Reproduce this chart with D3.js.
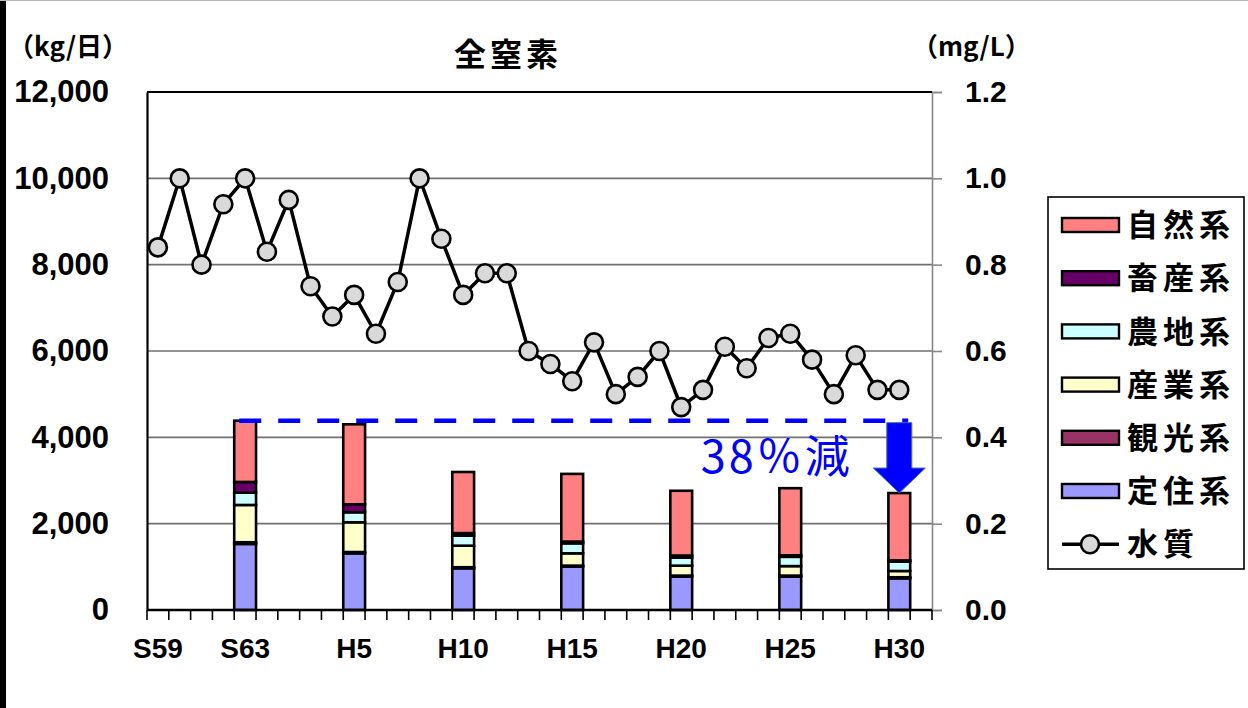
<!DOCTYPE html>
<html>
<head>
<meta charset="utf-8">
<script src="https://cdn.jsdelivr.net/npm/d3@7"></script>
<style>
  body { margin: 0; background: #fff; }
  svg { display: block; }
  .num { font-family: "Liberation Sans", Arial, sans-serif; font-weight: bold; }
  .jp { font-family: "Noto Sans CJK JP", sans-serif; }
</style>
</head>
<body>
<div id="chart"></div>
<script>
var fullWidth = 1248,
    fullHeight = 708;

// categories along x (one band per year, last band left empty)
var categories = ["S59","S60","S61","S62","S63",
  "H1","H2","H3","H4","H5","H6","H7","H8","H9","H10",
  "H11","H12","H13","H14","H15","H16","H17","H18","H19","H20",
  "H21","H22","H23","H24","H25","H26","H27","H28","H29","H30","R1"];
var tickLabels = ["S59","S63","H5","H10","H15","H20","H25","H30"];

// water quality (mg/L), S59..H30
var quality = [0.84, 1.00, 0.80, 0.94, 1.00, 0.83, 0.95, 0.75, 0.68, 0.73,
  0.64, 0.76, 1.00, 0.86, 0.73, 0.78, 0.78, 0.60, 0.57, 0.53,
  0.62, 0.50, 0.54, 0.60, 0.47, 0.51, 0.61, 0.56, 0.63, 0.64,
  0.58, 0.50, 0.59, 0.51, 0.51];

// loads (kg/day)
var barYears = ["S63","H5","H10","H15","H20","H25","H30"];
var teiju    = [1530, 1313,  966, 1003,  772,  772,  734];
var kanko    = [  40,   30,   25,   25,   25,   25,   25];
var sangyo   = [ 863,  689,  499,  285,  230,  220,  145];
var nochi    = [ 285,  232,  232,  232,  185,  215,  215];
var chikusan = [ 248,  185,   60,   40,   50,   35,   30];
var shizen   = [1420, 1853, 1415, 1568, 1500, 1555, 1560];

var seriesNames  = ["定住系","観光系","産業系","農地系","畜産系","自然系"];
var seriesColors = ["#9999FF","#993366","#FFFFCC","#CCFFFF","#660066","#FF8080"];
var legendNames  = ["自然系","畜産系","農地系","産業系","観光系","定住系"];

var leftTicks  = [0, 2000, 4000, 6000, 8000, 10000, 12000];
var rightTicks = [0, 0.2, 0.4, 0.6, 0.8, 1.0, 1.2];

var title = "全窒素",
    leftUnit = "（kg/日）",
    rightUnit = "（mg/L）",
    lineName = "水質",
    reductionLabel = "38％減";

var plot = {left: 147, right: 932, top: 92, bottom: 610};

var svg = d3.select("#chart").append("svg")
    .attr("width", fullWidth)
    .attr("height", fullHeight);

// frame of the slide
svg.append("rect").attr("x", 0).attr("y", 0).attr("width", 6).attr("height", fullHeight).attr("fill", "#000");
svg.append("line").attr("x1", 0).attr("x2", fullWidth).attr("y1", 0.5).attr("y2", 0.5)
    .attr("stroke", "#bbb").attr("stroke-width", 1);

var xScale = d3.scaleBand()
    .domain(categories)
    .range([plot.left, plot.right])
    .padding(0);

var yScale = d3.scaleLinear().domain([0, 12000]).range([plot.bottom, plot.top]);
var y2Scale = d3.scaleLinear().domain([0, 1.2]).range([plot.bottom, plot.top]);

// gridlines
svg.append("g")
  .selectAll("line")
  .data(leftTicks.filter(function(d) { return d > 0 && d < 12000; }))
  .enter().append("line")
    .attr("x1", plot.left).attr("x2", plot.right)
    .attr("y1", function(d) { return yScale(d); })
    .attr("y2", function(d) { return yScale(d); })
    .attr("stroke", "#707070")
    .attr("stroke-width", 1.6);

// right axis (gray)
var rightAxis = svg.append("g")
    .attr("class", "num")
    .attr("transform", "translate(" + plot.right + ",0)")
    .call(d3.axisRight(y2Scale).tickValues(rightTicks).tickSize(10).tickPadding(23)
          .tickFormat(d3.format(".1f")));
rightAxis.select(".domain").attr("stroke", "#888").attr("stroke-width", 1.6);
rightAxis.selectAll(".tick line").attr("stroke", "#888").attr("stroke-width", 1.6);
rightAxis.selectAll("text").attr("fill", "#000").style("font-size", "30px");

// left axis
var leftAxis = svg.append("g")
    .attr("class", "num")
    .attr("transform", "translate(" + plot.left + ",0)")
    .call(d3.axisLeft(yScale).tickValues(leftTicks).tickSize(0).tickPadding(38)
          .tickFormat(d3.format(",")));
leftAxis.select(".domain").attr("stroke", "#000").attr("stroke-width", 2.2);
leftAxis.selectAll("text").attr("fill", "#000").style("font-size", "31px");

// top border
svg.append("line")
    .attr("x1", plot.left).attr("x2", plot.right)
    .attr("y1", yScale(12000)).attr("y2", yScale(12000))
    .attr("stroke", "#000").attr("stroke-width", 2);

// stacked bars
var rows = barYears.map(function(yr, i) {
  return {year: yr, "定住系": teiju[i], "観光系": kanko[i], "産業系": sangyo[i],
          "農地系": nochi[i], "畜産系": chikusan[i], "自然系": shizen[i]};
});
var stacked = d3.stack().keys(seriesNames)(rows);

svg.append("g")
  .selectAll("g")
  .data(stacked)
  .enter().append("g")
    .attr("fill", function(d, i) { return seriesColors[i]; })
  .selectAll("rect")
  .data(function(d) { return d; })
  .enter().append("rect")
    .attr("x", function(d) { return xScale(d.data.year); })
    .attr("width", xScale.bandwidth())
    .attr("y", function(d) { return yScale(d[1]); })
    .attr("height", function(d) { return yScale(d[0]) - yScale(d[1]); })
    .attr("stroke", "#000")
    .attr("stroke-width", 2.6);

// bottom axis: boundary ticks and labels
var bottom = svg.append("g");
bottom.selectAll("line.tk")
  .data(categories.map(function(c) { return xScale(c); }).concat([plot.right]))
  .enter().append("line")
    .attr("class", "tk")
    .attr("x1", function(d) { return d; }).attr("x2", function(d) { return d; })
    .attr("y1", plot.bottom).attr("y2", plot.bottom + 10)
    .attr("stroke", "#000").attr("stroke-width", 1.6);
bottom.append("line")
    .attr("x1", plot.left).attr("x2", plot.right)
    .attr("y1", plot.bottom).attr("y2", plot.bottom)
    .attr("stroke", "#000").attr("stroke-width", 2.4);
bottom.selectAll("text")
  .data(tickLabels)
  .enter().append("text")
    .attr("class", "num")
    .attr("x", function(d) { return xScale(d) + xScale.bandwidth() / 2; })
    .attr("y", plot.bottom + 48)
    .attr("text-anchor", "middle")
    .style("font-size", "28px")
    .text(function(d) { return d; });

// water quality line
var lineData = quality.map(function(v, i) { return {cat: categories[i], v: v}; });
var line = d3.line()
    .x(function(d) { return xScale(d.cat) + xScale.bandwidth() / 2; })
    .y(function(d) { return y2Scale(d.v); });

svg.append("path")
    .datum(lineData)
    .attr("fill", "none")
    .attr("stroke", "#000")
    .attr("stroke-width", 3.5)
    .attr("stroke-linejoin", "round")
    .attr("d", line);

svg.append("g")
  .selectAll("circle")
  .data(lineData)
  .enter().append("circle")
    .attr("cx", function(d) { return xScale(d.cat) + xScale.bandwidth() / 2; })
    .attr("cy", function(d) { return y2Scale(d.v); })
    .attr("r", 9)
    .attr("fill", "#D9D9D9")
    .attr("stroke", "#000")
    .attr("stroke-width", 2.6);

// reduction annotation
var firstTotal = d3.sum(seriesNames, function(k) { return rows[0][k]; });
var lastTotal = d3.sum(seriesNames, function(k) { return rows[rows.length - 1][k]; });
var refY = yScale(firstTotal);

svg.append("line")
    .attr("x1", xScale("S63") + 5)
    .attr("x2", xScale("H30") + xScale.bandwidth() - 2)
    .attr("y1", refY).attr("y2", refY)
    .attr("stroke", "#0000FF")
    .attr("stroke-width", 4.5)
    .attr("stroke-dasharray", "22,17");

var ax = xScale("H30") + xScale.bandwidth() / 2,
    aTop = refY + 2,
    aTip = yScale(lastTotal),
    headH = 25, shaftW = 12.5, headW = 26;
svg.append("path")
    .attr("d", "M" + (ax - shaftW) + "," + aTop +
               "L" + (ax + shaftW) + "," + aTop +
               "L" + (ax + shaftW) + "," + (aTip - headH) +
               "L" + (ax + headW) + "," + (aTip - headH) +
               "L" + ax + "," + aTip +
               "L" + (ax - headW) + "," + (aTip - headH) +
               "L" + (ax - shaftW) + "," + (aTip - headH) + "Z")
    .attr("fill", "#0000FF")
    .attr("stroke", "#41719C")
    .attr("stroke-width", 1);

svg.append("text")
    .attr("class", "jp")
    .attr("x", xScale("H28") + 8)
    .attr("y", refY + 52)
    .attr("text-anchor", "end")
    .attr("fill", "#0000FF")
    .style("font-size", "45px")
    .style("letter-spacing", "3px")
    .text(reductionLabel);

// titles and units
svg.append("text").attr("class", "jp")
    .attr("x", 508).attr("y", 66)
    .attr("text-anchor", "middle")
    .style("font-size", "32px").style("font-weight", "bold").style("letter-spacing", "4px")
    .text(title);
svg.append("text").attr("class", "jp")
    .attr("x", 8).attr("y", 56)
    .style("font-size", "26px").style("font-weight", "bold")
    .text(leftUnit);
svg.append("text").attr("class", "jp")
    .attr("x", 912).attr("y", 56)
    .style("font-size", "26px").style("font-weight", "bold")
    .text(rightUnit);

// legend
var legend = svg.append("g");
legend.append("rect")
    .attr("x", 1048).attr("y", 197).attr("width", 196).attr("height", 372)
    .attr("fill", "#fff").attr("stroke", "#000").attr("stroke-width", 1.6);

var legendStep = 53.2, legendTop = 225;
legendNames.forEach(function(name, i) {
  var cy = legendTop + i * legendStep;
  legend.append("rect")
      .attr("x", 1062).attr("y", cy - 7).attr("width", 57).attr("height", 14)
      .attr("fill", seriesColors[seriesNames.indexOf(name)])
      .attr("stroke", "#000").attr("stroke-width", 2.4);
  legend.append("text").attr("class", "jp")
      .attr("x", 1127).attr("y", cy).attr("dy", "0.36em")
      .style("font-size", "31px").style("font-weight", "bold").style("letter-spacing", "5px")
      .text(name);
});
var ly = legendTop + legendNames.length * legendStep;
legend.append("line")
    .attr("x1", 1062).attr("x2", 1119).attr("y1", ly).attr("y2", ly)
    .attr("stroke", "#000").attr("stroke-width", 3.5);
legend.append("circle")
    .attr("cx", 1090).attr("cy", ly).attr("r", 9)
    .attr("fill", "#D9D9D9").attr("stroke", "#000").attr("stroke-width", 2.6);
legend.append("text").attr("class", "jp")
    .attr("x", 1127).attr("y", ly).attr("dy", "0.36em")
    .style("font-size", "31px").style("font-weight", "bold").style("letter-spacing", "5px")
    .text(lineName);
</script>
</body>
</html>
